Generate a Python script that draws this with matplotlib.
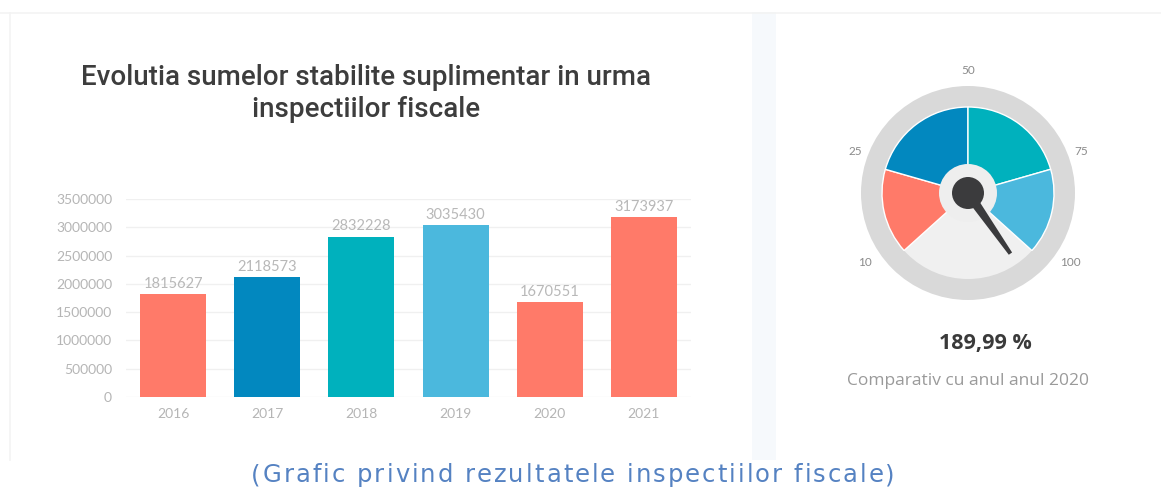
import numpy as np
import matplotlib.pyplot as plt
from matplotlib.patches import Wedge, Circle, Polygon, Rectangle
from matplotlib.font_manager import FontProperties

# data
years = ['2016', '2017', '2018', '2019', '2020', '2021']
sume = [1815627, 2118573, 2832228, 3035430, 1670551, 3173937]
bar_colors = ['#FF7A69', '#0288BF', '#00B1BD', '#4BB8DD', '#FF7A69', '#FF7A69']
yticks = [0, 500000, 1000000, 1500000, 2000000, 2500000, 3000000, 3500000]

# gauge
gauge_labels = ['10', '25', '50', '75', '100']
gauge_angles = [222, 164, 90, 16, -42]   # segment edges, degrees
gauge_colors = ['#FF7A69', '#0288BF', '#00B1BD', '#4BB8DD']
needle_angle = -55
procent = '189,99 %'
subtitlu = 'Comparativ cu anul anul 2020'
caption = '(Grafic privind rezultatele inspectiilor fiscale)'

W, H = 1161, 487
fig = plt.figure(figsize=(W / 100, H / 100), dpi=100)
fig.patch.set_facecolor('white')

# panel background bits (faint borders and the strip between panels)
bg = fig.add_axes([0, 0, 1, 1])
bg.set_xlim(0, W)
bg.set_ylim(H, 0)
bg.axis('off')
bg.add_patch(Rectangle((752, 12), 24, 448, color='#f6f9fc', lw=0))
bg.plot([0, W], [12.5, 12.5], color='#f3f3f3', lw=1.2)
bg.plot([9.5, 9.5], [13, 460], color='#f3f3f3', lw=1.2)

# title
fig.text(366 / W, 1 - 93.5 / H, 'Evolutia sumelor stabilite suplimentar in urma\ninspectiilor fiscale',
         ha='center', va='center', fontsize=20, color='#3d3d3d', family='Roboto',
         fontweight='medium', linespacing=1.2)

# bar chart
ax = fig.add_axes([126 / W, 1 - 397 / H, 565 / W, 198 / H])
x = np.arange(len(years))
bars = ax.bar(x, sume, width=0.7, color=bar_colors)
ax.set_xlim(-0.5, len(years) - 0.5)
ax.set_ylim(0, 3500000)
ax.set_yticks(yticks)
ax.set_yticklabels([str(v) for v in yticks])
ax.set_xticks(x)
ax.set_xticklabels(years)
ax.tick_params(length=0, labelsize=10, labelcolor='#b5b5b5', pad=8)
ax.tick_params(axis='y', pad=10)
for lab in ax.get_xticklabels() + ax.get_yticklabels():
    lab.set_family('Lato')
ax.grid(axis='y', color='#f0f0f0', lw=1)
ax.set_axisbelow(True)
for s in ax.spines.values():
    s.set_visible(False)
for xi, v in zip(x, sume):
    ax.text(xi, v + 60000, str(v), ha='center', va='bottom', fontsize=10.5,
            color='#b8b8b8', family='Lato')

# gauge (pixel units around the centre)
cx, cy = 968, 193
size = 300
gx = fig.add_axes([(cx - size / 2) / W, 1 - (cy + size / 2) / H, size / W, size / H])
gx.set_xlim(-size / 2, size / 2)
gx.set_ylim(-size / 2, size / 2)
gx.axis('off')
gx.add_patch(Circle((0, 0), 107, color='#d9d9d9', lw=0))
gx.add_patch(Circle((0, 0), 86, color='#f0f0f0', lw=0))
for i, c in enumerate(gauge_colors):
    gx.add_patch(Wedge((0, 0), 86, gauge_angles[i + 1], gauge_angles[i], color=c,
                       ec='white', lw=1))
gx.add_patch(Circle((0, 0), 29, color='#eeeeee', lw=0))
a = np.deg2rad(needle_angle)
ux, uy = np.cos(a), np.sin(a)
px, py = -uy, ux
L, w0, w1 = 74, 5, 2
gx.add_patch(Polygon([(px * w0, py * w0), (ux * L + px * w1, uy * L + py * w1),
                      (ux * L - px * w1, uy * L - py * w1), (-px * w0, -py * w0)],
                     closed=True, color='#3b3b3d', lw=0))
gx.add_patch(Circle((0, 0), 16, color='#3b3b3d', lw=0))
label_r = [124, 120, 123, 120, 124]
label_a = [214, 160, 90, 20, -34]
for t, r, ang in zip(gauge_labels, label_r, label_a):
    ra = np.deg2rad(ang)
    gx.text(r * np.cos(ra), r * np.sin(ra), t, ha='center', va='center',
            fontsize=8.5, color='#8a8a8a', family='Lato')

fig.text(985 / W, 1 - 344 / H, procent, ha='center', va='center', fontsize=15.5,
         fontweight='bold', color='#3a3a3a', family='Open Sans')
fig.text(968 / W, 1 - 381 / H, subtitlu, ha='center', va='center', fontsize=12.5,
         color='#9a9a9a', family='Open Sans')

# caption, letter-spaced: place each character by hand
prop = FontProperties(family='DejaVu Sans', size=17.5)
renderer = fig.canvas.get_renderer()
widths = [renderer.get_text_width_height_descent(ch, prop, ismath=False)[0]
          for ch in caption]
x0, x1 = 251, 895
gap = (x1 - x0 - sum(widths)) / (len(caption) - 1)
xc = x0
for ch, w in zip(caption, widths):
    fig.text(xc / W, 1 - 482 / H, ch, ha='left', va='baseline', fontproperties=prop,
             color='#5582c2')
    xc += w + gap

fig.savefig('out.png', dpi=100, facecolor='white')
